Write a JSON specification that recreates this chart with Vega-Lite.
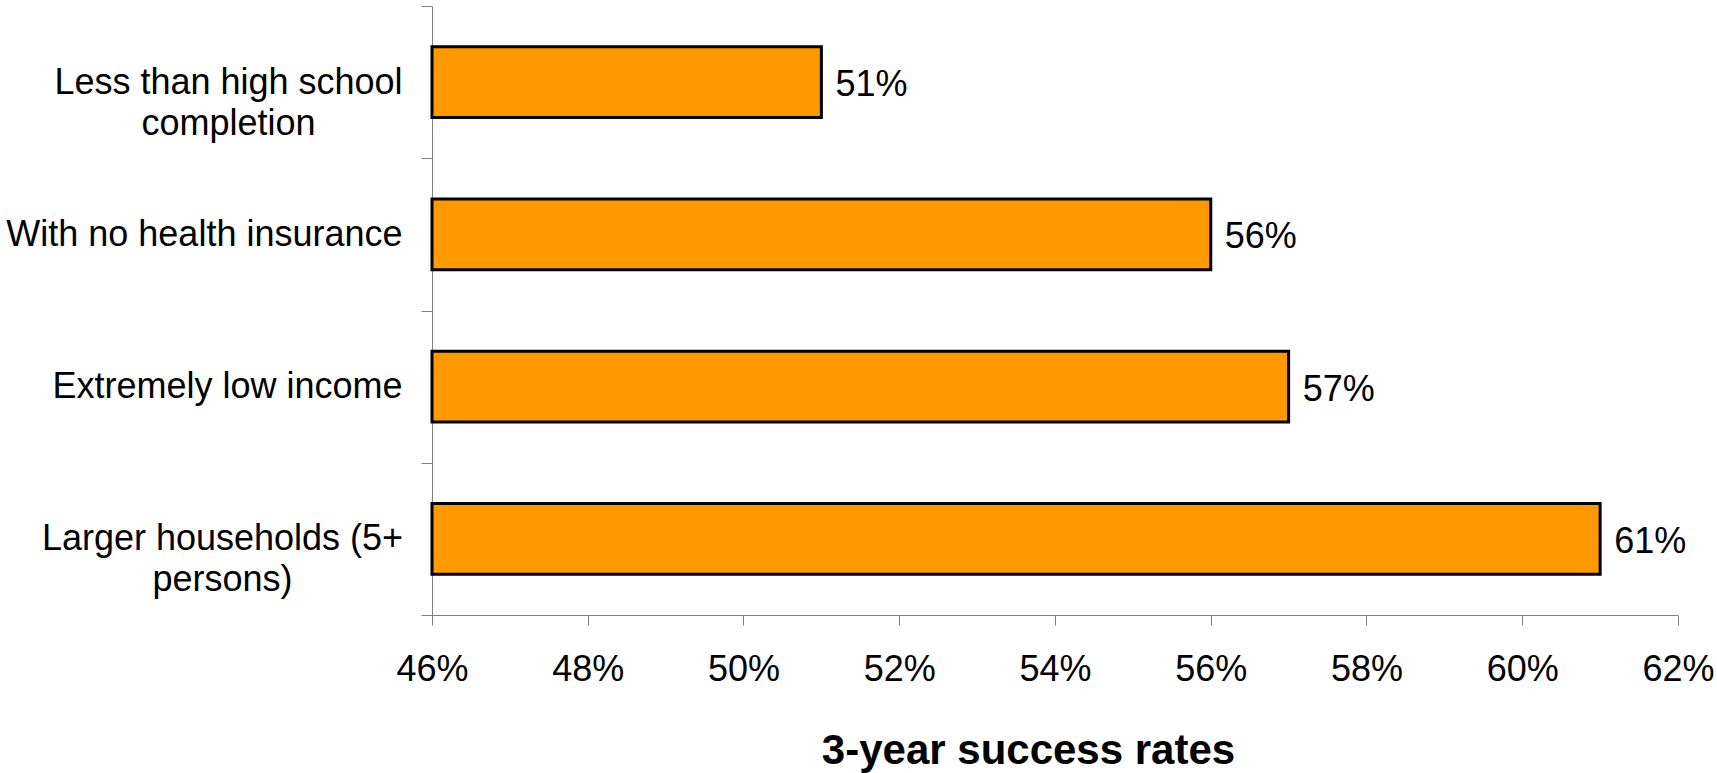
{
  "$schema": "https://vega.github.io/schema/vega-lite/v6.json",
  "width": 1246,
  "height": 609,
  "autosize": {"type": "none"},
  "padding": {"left": 432, "top": 6, "right": 39, "bottom": 158},
  "background": "white",
  "config": {
    "view": {"stroke": null},
    "font": "Liberation Sans",
    "axis": {"grid": false, "domainColor": "#808080", "tickColor": "#808080", "labelColor": "black", "titleColor": "black"}
  },
  "data": {
    "values": [
      {"group": "Less than high school|completion", "rate": 0.51},
      {"group": "With no health insurance", "rate": 0.56},
      {"group": "Extremely low income", "rate": 0.57},
      {"group": "Larger households (5+|persons)", "rate": 0.61}
    ]
  },
  "encoding": {
    "y": {
      "field": "group",
      "type": "nominal",
      "sort": null,
      "scale": {"paddingInner": 0, "paddingOuter": 0},
      "axis": {
        "title": null,
        "tickBand": "extent",
        "tickSize": 11,
        "labelFontSize": 36,
        "labelLineHeight": 41,
        "labelLimit": 0,
        "labelExpr": "isValid(datum.value) ? split(datum.value, '|') : ''",
        "labelAlign": {"condition": {"test": "datum.value == 'Less than high school|completion' || datum.value == 'Larger households (5+|persons)'", "value": "center"}, "value": "right"},
        "labelPadding": {"condition": [
          {"test": "datum.value == 'Less than high school|completion'", "value": 193},
          {"test": "datum.value == 'Larger households (5+|persons)'", "value": 199}
        ], "value": 19}
      }
    },
    "x": {
      "field": "rate",
      "type": "quantitative",
      "scale": {"domain": [0.46, 0.62], "zero": false, "nice": false},
      "axis": {
        "title": "3-year success rates",
        "format": ".0%",
        "values": [0.46, 0.48, 0.5, 0.52, 0.54, 0.56, 0.58, 0.6, 0.62],
        "tickSize": 10,
        "labelFontSize": 36,
        "labelPadding": 27,
        "labelFlush": false,
        "titleFontSize": 42,
        "titleFontWeight": "bold",
        "titleX": 596,
        "titleY": 148,
        "titleBaseline": "alphabetic",
        "titleAnchor": "middle"
      }
    }
  },
  "layer": [
    {
      "mark": {"type": "bar", "color": "#FF9900", "stroke": "black", "strokeWidth": 3, "height": {"band": 0.466}},
      "encoding": {"x2": {"datum": 0.46}}
    },
    {
      "mark": {"type": "text", "align": "left", "baseline": "middle", "dx": 14, "dy": 3, "fontSize": 36, "color": "black"},
      "encoding": {"text": {"field": "rate", "type": "quantitative", "format": ".0%"}}
    }
  ]
}
